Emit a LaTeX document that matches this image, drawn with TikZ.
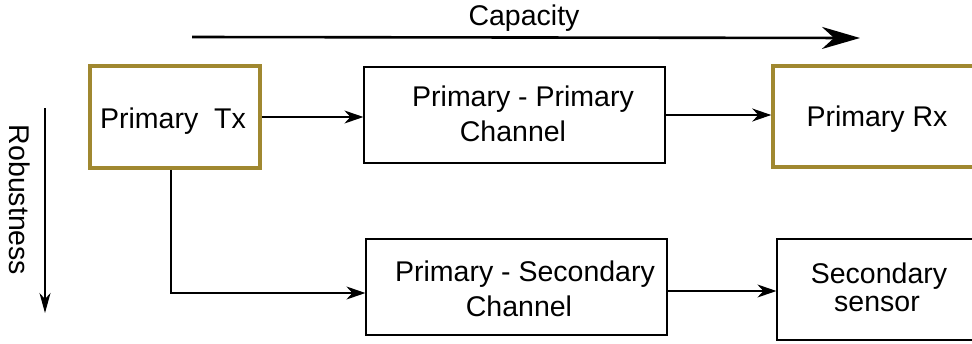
\documentclass[tikz,border=0pt]{standalone}
\usepackage{fontspec}
\setmainfont{Liberation Sans}
\usetikzlibrary{arrows.meta}
\definecolor{gold}{RGB}{160,136,48}
\begin{document}
\begin{tikzpicture}[x=1pt,y=-1pt,
  txt/.style={font=\fontsize{28.5}{35}\selectfont,anchor=base},
  gbox/.style={draw=gold,line width=3.5pt,inner sep=0pt},
  bbox/.style={draw=black,line width=1.2pt,inner sep=0pt},
  conn/.style={line width=1.2pt,-{Stealth[length=19pt,width=13pt,inset=6pt]}}]
\useasboundingbox (0,0) rectangle (972,343);
\node[gbox,minimum width=170pt,minimum height=102pt] (tx) at (175,117) {};
\node[txt] (txl) at (173,128) {Primary\ \ Tx};
\node[bbox,minimum width=301pt,minimum height=96pt] (pp) at (514.5,115) {};
\node[txt] (ppa) at (523,106) {Primary - Primary};
\node[txt] (ppb) at (513,141) {Channel};
\node[gbox,minimum width=220pt,minimum height=101pt] (rx) at (883,116.5) {};
\node[txt] (rxl) at (877,126) {Primary Rx};
\node[bbox,minimum width=301pt,minimum height=96pt] (ps) at (516.5,287) {};
\node[txt] (psa) at (525,281) {Primary - Secondary};
\node[txt] (psb) at (519,316) {Channel};
\node[bbox,minimum width=220pt,minimum height=101pt] (ss) at (887,289.5) {};
\node[txt] (ssa) at (879,283) {Secondary};
\node[txt] (ssb) at (877,311) {sensor};
\draw[conn] (tx.east) -- (tx.east -| pp.west);
\draw[conn] (pp.east) -- (pp.east -| rx.west);
\draw[conn] (tx.south -| 171,0) -- (171,293) -- (ps.west |- 0,293);
\draw[conn] (ps.east |- 0,291) -- (ss.west |- 0,291);
\coordinate (c1) at (192,37);
\coordinate (c2) at (860,38);
\draw[line width=2.6pt,-{Stealth[length=38pt,width=22pt,inset=12pt]}] (c1) -- (c2);
\node[txt] (cap) at (524,25) {Capacity};
\coordinate (r1) at (45,108);
\coordinate (r2) at (45,313);
\draw[line width=1.2pt,-{Stealth[length=20pt,width=11pt,inset=6pt]}] (r1) -- (r2);
\node[txt,anchor=center,rotate=-90] (rob) at (20,200) {Robustness};
\end{tikzpicture}
\end{document}
